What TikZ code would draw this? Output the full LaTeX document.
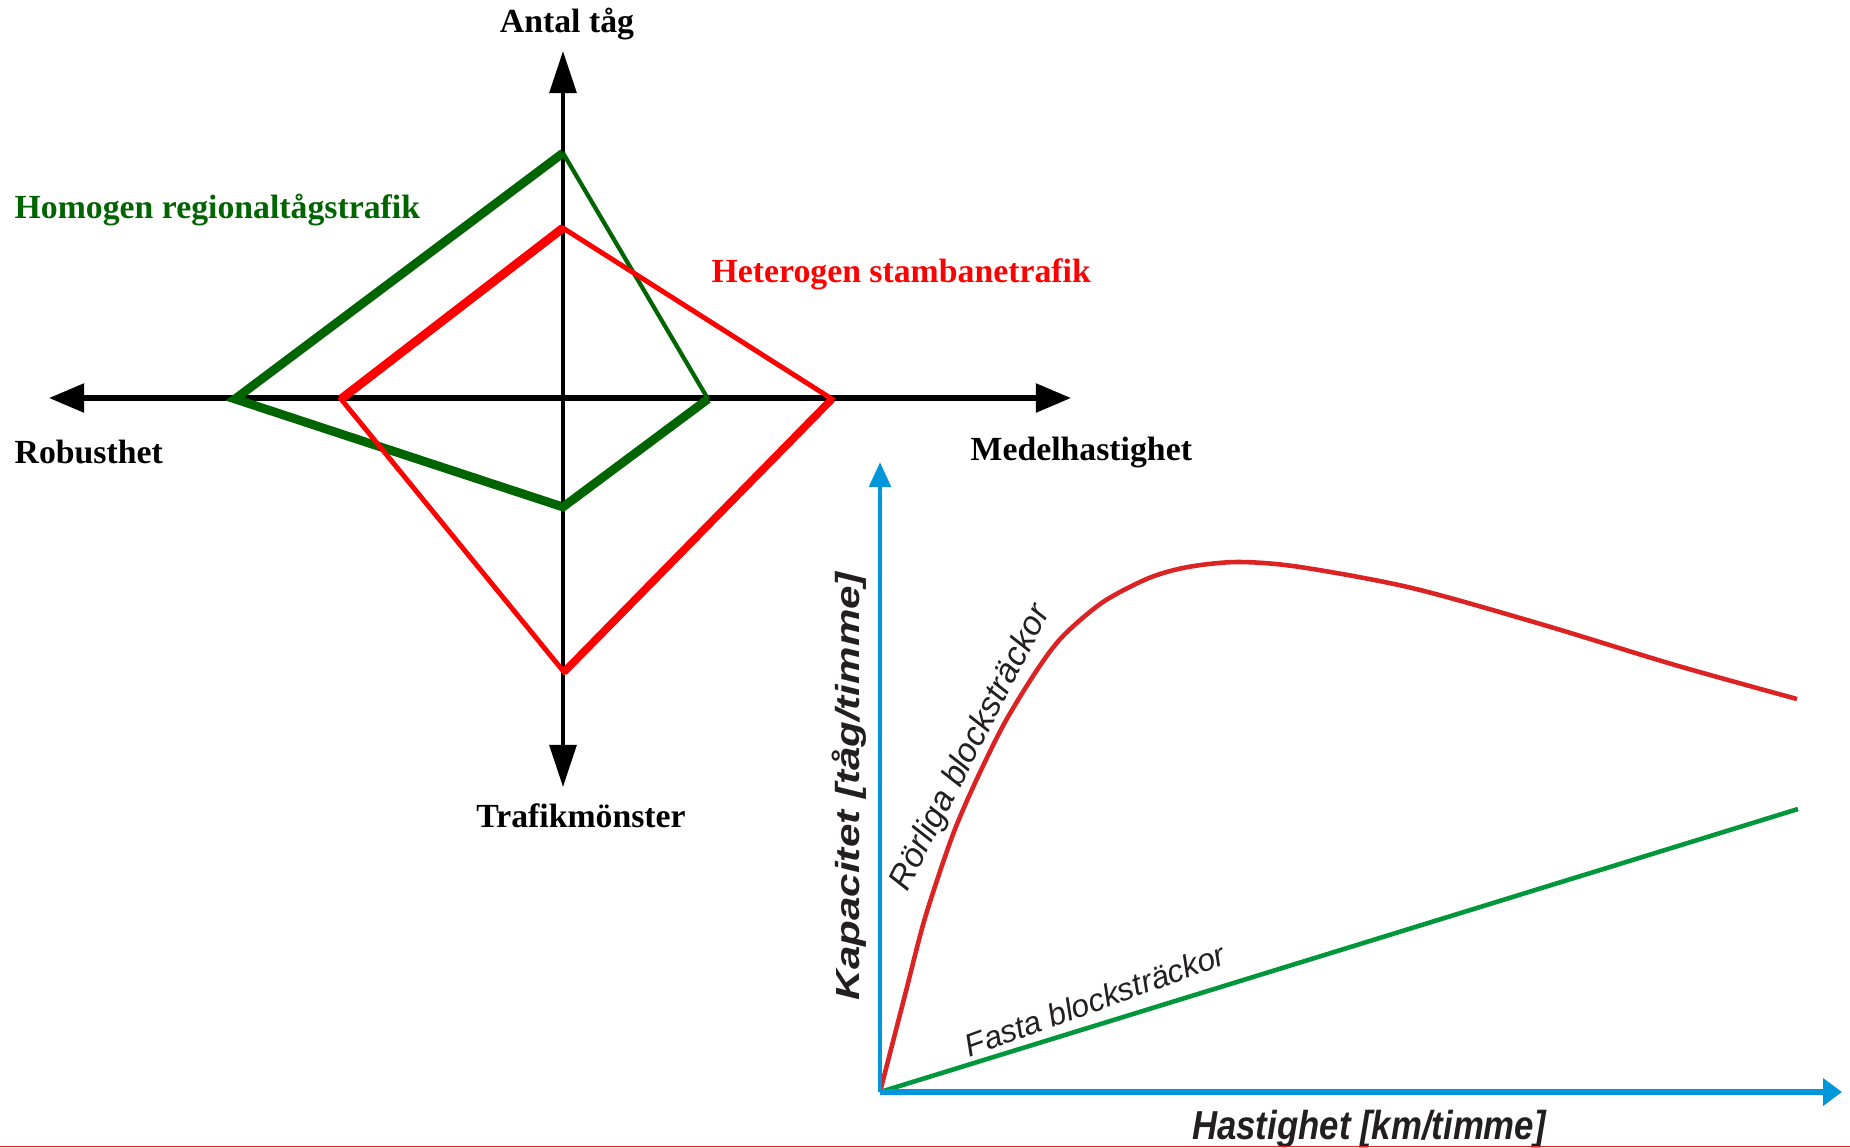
\documentclass[tikz,border=0pt]{standalone}
\usepackage{fontspec}
\setmainfont{Liberation Serif}
\newfontfamily\plotfont{Liberation Sans}
\newfontfamily\plotwide[FakeStretch=1.26]{Liberation Sans}
\newfontfamily\plotnarrow[FakeStretch=0.86]{Liberation Sans}
\usetikzlibrary{arrows.meta}
\definecolor{homogreen}{RGB}{0,100,0}
\definecolor{plotred}{RGB}{220,35,35}
\definecolor{plotgreen}{RGB}{0,150,60}
\definecolor{plotblue}{RGB}{0,150,220}
\definecolor{plotink}{RGB}{35,31,32}
\tikzset{
        vaxis/.style={draw=black, line width=1.1pt, -{Triangle[length=12pt, width=7.6pt]}},
        haxis/.style={draw=black, line width=1.5pt, -{Triangle[length=10pt, width=8pt]}},
        homogen/.style={draw=homogreen, line join=miter},
        heterogen/.style={draw=red, line join=miter},
        fat/.style={line width=2.5pt},
        medium/.style={line width=2.2pt},
        slim/.style={line width=1.2pt},
        redslim/.style={line width=1.4pt},
        title/.style={inner sep=0pt, anchor=base, font=\bfseries\fontsize{9.6pt}{11pt}\selectfont},
        yplot/.style={draw=plotblue, line width=1.4pt, -{Triangle[length=7.1pt, width=6pt]}},
        xplot/.style={draw=plotblue, line width=1.6pt, -{Triangle[length=5.4pt, width=7.6pt]}},
        curve/.style={line width=1.3pt},
        curvelabel/.style={inner sep=0pt, text=plotink, font=\plotfont\itshape}
          }
\begin{document}
\begin{tikzpicture}[x=0.01cm, y=-0.01cm]
            \useasboundingbox (0,0) rectangle (1850,1147);
            \coordinate (O) at (563,398);
            \coordinate (N) at (563,51);
            \coordinate (S) at (563,787);
            \coordinate (W) at (49,398);
            \coordinate (E) at (1071,398);
            \coordinate (gT) at (563,153);
            \coordinate (gL) at (235,399);
            \coordinate (gB) at (563,507);
            \coordinate (gR) at (708,399);
            \coordinate (rT) at (563,228);
            \coordinate (rL) at (341,399);
            \coordinate (rB) at (564,672);
            \coordinate (rR) at (832,399);
            \draw[haxis] (O) -- (E);
            \draw[haxis] (O) -- (W);
            \draw[vaxis] (O) -- (N);
            \draw[vaxis] (O) -- (S);
            \draw[homogen, slim] (gR) -- (gT);
            \draw[homogen, fat] (gT) -- (gL) -- (gB) -- (gR);
            \draw[heterogen, redslim] (rT) -- (rL) -- (rB) -- (rR) -- cycle;
            \draw[heterogen, fat] (rT) -- (rL);
            \draw[heterogen, medium] (rB) -- (rR);
            \node[title] (antal) at (567,32) {Antal tåg};
            \node[title, anchor=base west, text=homogreen] (homo) at (14,218) {Homogen regionaltågstrafik};
            \node[title, anchor=base west, text=red] (hetero) at (711,282) {Heterogen stambanetrafik};
            \node[title, anchor=base west] (robust) at (14,463) {Robusthet};
            \node[title, anchor=base west] (medel) at (970,460) {Medelhastighet};
            \node[title] (trafik) at (581,827) {Trafikmönster};
            \coordinate (C0) at (880,1092);
            \coordinate (Cy) at (880,462);
            \coordinate (Cx) at (1842,1092);
            \coordinate (Cg) at (1798,809);
            \draw[plotgreen, curve] (C0) -- (Cg);
            \draw[plotred, curve] plot[smooth, tension=0.5] coordinates {(880,1092) (905,995) (925,918) (952,837) (975,783) (1004,724) (1037,670) (1063,636) (1103,602) (1149,578) (1188,567) (1238,562) (1300,567) (1412,588) (1544,625) (1675,665) (1797,699)};
            \draw[yplot] (C0) -- (Cy);
            \draw[xplot] (C0) -- (Cx);
            \node[curvelabel, rotate=63, font=\plotfont\itshape\fontsize{9.6pt}{11pt}\selectfont] (rorlig) at (971,748) {Rörliga blocksträckor};
            \node[curvelabel, rotate=20, font=\plotfont\itshape\fontsize{9pt}{11pt}\selectfont] (fast) at (1095,1000) {Fasta blocksträckor};
            \node[inner sep=0pt, anchor=base, rotate=90, text=plotink, font=\plotwide\bfseries\itshape\fontsize{9.5pt}{11pt}\selectfont] (kap) at (859,786) {Kapacitet [tåg/timme]};
            \node[inner sep=0pt, anchor=base, text=plotink, font=\plotnarrow\bfseries\itshape\fontsize{11.5pt}{13pt}\selectfont] (hast) at (1369,1139) {Hastighet [km/timme]};
            \draw[draw=plotred, line width=0.4pt] (0,1146.3) -- (1850,1146.3);
          \end{tikzpicture}
\end{document}
